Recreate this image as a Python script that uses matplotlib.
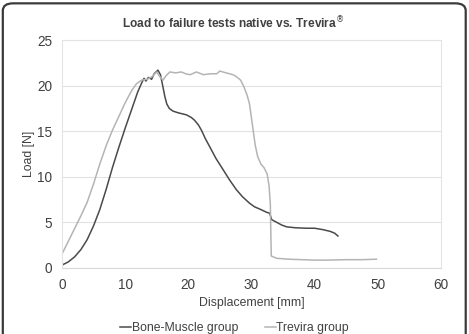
import matplotlib
matplotlib.use("Agg")
import matplotlib.pyplot as plt
from matplotlib.patches import FancyBboxPatch

plt.rcParams['font.family'] = ['Liberation Sans', 'DejaVu Sans']

# Bone-Muscle group (dark)
bone_x = [0, 1, 2, 3, 4, 5, 6, 7, 8, 9, 10, 11, 12, 12.7, 13.0, 13.3, 13.7, 14.2,
          14.6, 15.2, 15.6, 15.9, 16.3, 16.6, 17.0, 17.6, 18.5, 19.7, 20.5, 21.0,
          21.6, 22.1, 22.7, 23.4, 24.4, 25.5, 26.5, 27.6, 28.6, 29.7, 30.5, 31.5,
          32.4, 32.9, 33.2, 34.0, 34.8, 35.6, 37.0, 38.7, 40.0, 41.3, 42.5, 43.2, 43.7]
bone_y = [0.3, 0.65, 1.2, 2.0, 3.1, 4.6, 6.4, 8.6, 11.0, 13.2, 15.3, 17.3, 19.3,
          20.4, 20.8, 20.5, 20.9, 20.7, 21.3, 21.7, 21.2, 20.2, 18.8, 18.0, 17.5,
          17.2, 17.0, 16.8, 16.5, 16.2, 15.7, 15.1, 14.2, 13.3, 12.0, 10.8, 9.7,
          8.6, 7.8, 7.1, 6.7, 6.4, 6.1, 6.0, 5.3, 5.0, 4.7, 4.5, 4.4, 4.35, 4.35,
          4.2, 4.0, 3.8, 3.5]

# Trevira group (light)
trev_x = [0, 1, 2, 3, 4, 5, 6, 7, 8, 9, 10, 11, 11.8, 12.6, 13.5, 14.3, 15.0, 15.5,
          16.0, 16.5, 17.1, 18.0, 18.9, 19.6, 20.3, 21.3, 22.4, 23.5, 24.5, 25.0,
          26.0, 27.1, 27.6, 28.3, 28.8, 29.3, 29.7, 30.0, 30.3, 30.6, 31.0, 31.5,
          32.0, 32.5, 32.8, 33.0, 33.1, 33.15, 34.0, 36.0, 38.0, 40.0, 42.0, 45.0,
          47.5, 49.8]
trev_y = [1.5, 2.9, 4.3, 5.7, 7.2, 9.2, 11.4, 13.4, 15.1, 16.6, 18.1, 19.4, 20.2,
          20.6, 20.7, 21.0, 21.5, 21.0, 20.6, 21.1, 21.5, 21.4, 21.5, 21.3, 21.2,
          21.5, 21.2, 21.3, 21.3, 21.6, 21.4, 21.2, 21.0, 20.6, 19.9, 19.0, 18.0,
          16.5, 15.0, 13.5, 12.2, 11.4, 11.0, 10.3, 9.0, 7.0, 3.0, 1.3, 1.05, 0.95,
          0.9, 0.85, 0.85, 0.9, 0.9, 0.95]

fig = plt.figure(figsize=(4.69, 3.34), dpi=100)
ax = fig.add_axes([0.132, 0.198, 0.808, 0.682])

ax.plot(bone_x, bone_y, color='#4a4a4a', lw=1.1, label='Bone-Muscle group')
ax.plot(trev_x, trev_y, color='#b4b4b4', lw=1.1, label='Trevira group')

ax.set_xlim(0, 60)
ax.set_ylim(0, 25)
ax.set_xticks(range(0, 61, 10))
ax.set_yticks(range(0, 26, 5))
ax.grid(axis='y', color='#e2e2e2', lw=0.8)
ax.set_axisbelow(True)
for s in ax.spines.values():
    s.set_color('#e4e4e4')
    s.set_linewidth(0.8)
ax.spines['bottom'].set_color('#d9d9d9')
ax.tick_params(length=0, labelsize=9.8, colors='#404040')
ax.tick_params(axis='x', pad=7)
ax.tick_params(axis='y', pad=7)

ax.set_xlabel('Displacement [mm]', fontsize=8.8, color='#404040', labelpad=4)
ax.set_ylabel('Load [N]', fontsize=8.8, color='#404040', labelpad=1.5)
fig.suptitle('Load to failure tests native vs. Trevira$^{\u00ae}$', x=0.497, y=0.955,
             fontsize=8.6, fontweight='bold', color='#404040')

fig.legend(loc='center', bbox_to_anchor=(0.5, 0.018), ncol=2, frameon=False,
           fontsize=8.8, handlelength=0.9, handletextpad=0.05, columnspacing=2.2,
           labelcolor='#404040')

frame = FancyBboxPatch((0.006, -0.05), 0.987, 1.04, boxstyle='round,pad=0,rounding_size=0.022',
                       transform=fig.transFigure, fill=False, edgecolor='#3a3a3a', lw=1.6,
                       clip_on=False)
fig.patches.append(frame)

fig.savefig('out.png', dpi=100)
